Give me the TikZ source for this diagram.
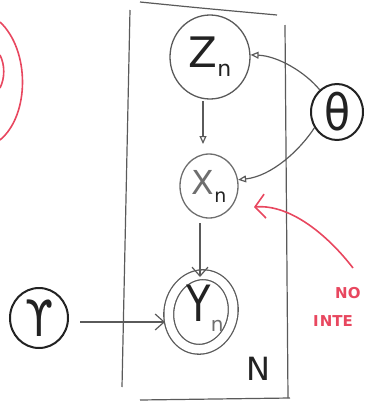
\documentclass[tikz,border=0pt]{standalone}
\usepackage{fontspec}
\newfontfamily\hand{DejaVu Sans}
\usetikzlibrary{arrows.meta,shapes.geometric}
\definecolor{pen}{HTML}{5A5A5A}
\definecolor{penlight}{HTML}{6E6E6E}
\definecolor{ink}{HTML}{222222}
\definecolor{redpen}{HTML}{E8475F}
\tikzset{
  lat/.style={ellipse, draw=pen, line width=1.3pt, inner sep=0pt},
  hyper/.style={ellipse, draw=ink, line width=2pt, inner sep=0pt},
  tri/.style={draw=pen, line width=1.2pt, -{Triangle[open,length=8pt,width=7pt]}},
  barb/.style={draw=pen, line width=1.2pt, -{Straight Barb[length=9pt,width=16pt]}},
  redarr/.style={draw=redpen, line width=1.6pt, -{Straight Barb[length=10pt,width=24pt]}},
  redtxt/.style={text=redpen, font=\hand\bfseries\fontsize{15}{15}\selectfont, inner sep=0pt, anchor=west},
}
\begin{document}
\begin{tikzpicture}[x=1pt,y=-1pt]
\useasboundingbox (0,0) rectangle (368,402);
% plate
\draw[pen, line width=1.2pt] (130,10) -- (122,387);
\draw[pen, line width=1.2pt] (285,25) -- (288,398);
\draw[pen, line width=1.2pt] (140,2) .. controls (200,8) .. (277,15);
\draw[pen, line width=1.2pt] (140,400) -- (290,398);
\node[text=ink, font=\hand\fontsize{32}{32}\selectfont, inner sep=0pt] (plN) at (258,369) {N};
% nodes
\node[lat, minimum width=80, minimum height=84, text=ink] (zn) at (210,57)
  {\hand\fontsize{42}{42}\selectfont Z\raisebox{-9pt}{\fontsize{22}{22}\selectfont n}};
\node[lat, draw=penlight, minimum width=58, minimum height=64, text=penlight] (xn) at (209,186)
  {\hand\fontsize{33}{33}\selectfont X\raisebox{-8pt}{\color{ink}\fontsize{19}{19}\selectfont n}};
\node[lat, double=white, double distance=8.5pt, minimum width=64, minimum height=75, rotate=-12] (yn) at (201,312) {};
\node[text=ink, inner sep=0pt] (yntxt) at (205,308)
  {\hand\fontsize{50}{50}\selectfont\scalebox{0.8}[1]{Y}\raisebox{-10pt}{\color{penlight}\fontsize{20}{20}\selectfont n}};
\node[hyper, minimum width=52, minimum height=56, text=ink] (th) at (337,112)
  {\scalebox{0.85}[1]{\hand\fontsize{50}{50}\selectfont θ}};
\node[hyper, minimum width=58, minimum height=60, text=ink] (ups) at (39,318)
  {\scalebox{0.8}[1]{\hand\fontsize{50}{50}\selectfont ϒ}};
% edges
\coordinate (zx1) at (203,101);
\coordinate (zx2) at (203,144);
\coordinate (xy1) at (200,223);
\coordinate (xy2) at (200,277);
\coordinate (uy1) at (80,322);
\coordinate (uy2) at (165,322);
\draw[tri] (zx1) -- (zx2);
\draw[barb] (xy1) -- (xy2);
\draw[barb] (uy1) -- (uy2);
\draw[tri] (th.128) .. controls (305,72) and (278,56) .. (zn.3);
\draw[tri] (th.215) .. controls (300,150) and (272,176) .. (xn.12);
% red annotation
\draw[redpen, line width=1.6pt] (0,22) .. controls (30,50) and (30,115) .. (0,140);
\draw[redpen, line width=1.6pt] (0,55) .. controls (5,65) and (5,78) .. (0,88);
\coordinate (redstart) at (353,268);
\coordinate (redtip) at (254,207);
\draw[redarr] (redstart) .. controls (330,238) and (292,204) .. (redtip);
\node[redtxt] (no) at (335,293) {NO};
\node[redtxt] (inte) at (313,321) {I\kern1ptNTE};
\end{tikzpicture}
\end{document}
